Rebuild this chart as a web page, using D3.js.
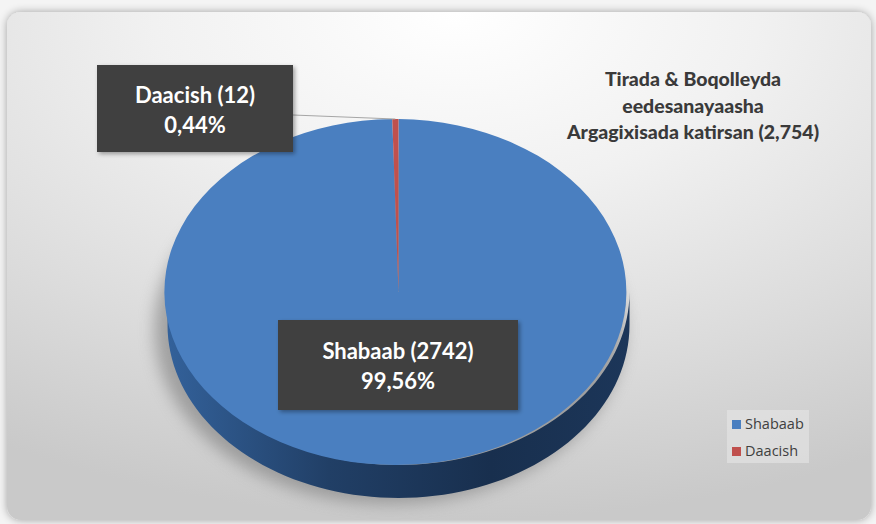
<!DOCTYPE html>
<html><head><meta charset="utf-8">
<script src="https://cdn.jsdelivr.net/npm/d3@7"></script>
<style>
html,body{margin:0;padding:0;background:#f4f4f4;}
svg{display:block;}
</style></head>
<body>
<svg id="chart" width="876" height="524"></svg>
<script>
const categories = ["Shabaab", "Daacish"];
const values = [2742, 12];
const colors = ["#4a7fc0", "#c0504d"];
const titleLines = ["Tirada & Boqolleyda", "eedesanayaasha", "Argagixisada katirsan (2,754)"];

(function(){
const svg = d3.select("#chart");
const defs = svg.append("defs");

// panel background
const bg = defs.append("radialGradient").attr("id","bgGrad")
  .attr("cx","0.52").attr("cy","0.0").attr("r","1.0").attr("fx","0.52").attr("fy","0.0");
bg.append("stop").attr("offset","0%").attr("stop-color","#ffffff");
bg.append("stop").attr("offset","35%").attr("stop-color","#f1f1f1");
bg.append("stop").attr("offset","70%").attr("stop-color","#dcdcdc");
bg.append("stop").attr("offset","100%").attr("stop-color","#c9c9c9");

const panelShadow = defs.append("filter").attr("id","panelShadow").attr("x","-5%").attr("y","-5%").attr("width","110%").attr("height","110%");
panelShadow.append("feGaussianBlur").attr("in","SourceAlpha").attr("stdDeviation",4).attr("result","b");
panelShadow.append("feComponentTransfer").attr("in","b").attr("result","o2")
  .append("feFuncA").attr("type","linear").attr("slope",0.35);
const pm = panelShadow.append("feMerge");
pm.append("feMergeNode").attr("in","o2");
pm.append("feMergeNode").attr("in","SourceGraphic");

svg.append("rect").attr("x",7).attr("y",12).attr("width",864).attr("height",508)
  .attr("rx",14).attr("fill","url(#bgGrad)").attr("filter","url(#panelShadow)");

// pie geometry
const cx = 398.5, cy = 292, rx = 231, ry = 173, depth = 33;

// soft shadow under pie
const blur = defs.append("filter").attr("id","pieShadow").attr("x","-30%").attr("y","-30%").attr("width","160%").attr("height","160%");
blur.append("feGaussianBlur").attr("stdDeviation",8);
svg.append("ellipse").attr("cx",cx-9).attr("cy",cy+depth+4).attr("rx",rx+4).attr("ry",ry+2)
  .attr("fill","#7a7a7a").attr("opacity",0.6).attr("filter","url(#pieShadow)");

const pie = d3.pie().sort(null).value(d => d)(values);

// side gradient
const sg = defs.append("linearGradient").attr("id","sideGrad").attr("x1","0").attr("x2","1").attr("y1","0").attr("y2","0");
sg.append("stop").attr("offset","0%").attr("stop-color","#33619a");
sg.append("stop").attr("offset","35%").attr("stop-color","#213f66");
sg.append("stop").attr("offset","70%").attr("stop-color","#182f4e");
sg.append("stop").attr("offset","100%").attr("stop-color","#1c3659");
const sgR = defs.append("linearGradient").attr("id","sideGradR").attr("x1","0").attr("x2","1");
sgR.append("stop").attr("offset","0%").attr("stop-color","#8a2e2c");
sgR.append("stop").attr("offset","100%").attr("stop-color","#6e2423");

const px = a => cx + rx * Math.sin(a);
const py = (a, dy) => cy - ry * Math.cos(a) + dy;

pie.forEach((p, i) => {
  const a0 = Math.max(p.startAngle, Math.PI/2), a1 = Math.min(p.endAngle, 3*Math.PI/2);
  if (a1 <= a0) return;
  const n = 80, pts = [];
  for (let k = 0; k <= n; k++) { const a = a0 + (a1-a0)*k/n; pts.push([px(a), py(a,0)]); }
  for (let k = n; k >= 0; k--) { const a = a0 + (a1-a0)*k/n; pts.push([px(a), py(a,depth)]); }
  svg.append("path").attr("d", d3.line()(pts) + "Z")
    .attr("fill", i === 0 ? "url(#sideGrad)" : "url(#sideGradR)");
});

// top face
const arc = d3.arc().innerRadius(0).outerRadius(1);
const face = svg.append("g").attr("transform", `translate(${cx},${cy}) scale(${rx},${ry})`);
face.selectAll("path").data(pie).join("path")
  .attr("d", arc).attr("fill", (d,i) => colors[i]);

// labels
const fmt = v => (v / d3.sum(values) * 100).toFixed(2).replace(".", ",") + "%";
const labelShadow = defs.append("filter").attr("id","lblShadow").attr("x","-10%").attr("y","-10%").attr("width","130%").attr("height","130%");
labelShadow.append("feDropShadow").attr("dx",2).attr("dy",2).attr("stdDeviation",2).attr("flood-color","#000").attr("flood-opacity",0.35);

const labels = [
  {i:0, x:278, y:320, w:240, h:90},
  {i:1, x:97, y:65, w:196, h:87}
];

// leader line for Daacish
const mid = (pie[1].startAngle + pie[1].endAngle) / 2;
svg.append("line").attr("x1",293).attr("y1",115).attr("x2",px(mid)).attr("y2",py(mid,0))
  .attr("stroke","#a6a6a6").attr("stroke-width",1);

labels.forEach(L => {
  const g = svg.append("g");
  g.append("rect").attr("x",L.x).attr("y",L.y).attr("width",L.w).attr("height",L.h)
    .attr("fill","#404040").attr("filter","url(#lblShadow)");
  g.append("text").attr("x",L.x+L.w/2).attr("y",L.y+L.h/2-6)
    .attr("text-anchor","middle").attr("fill","#ffffff")
    .attr("font-family","Lato, 'Open Sans', sans-serif").attr("font-weight","bold").attr("font-size",22)
    .text(`${categories[L.i]} (${values[L.i]})`);
  g.append("text").attr("x",L.x+L.w/2).attr("y",L.y+L.h/2+24)
    .attr("text-anchor","middle").attr("fill","#ffffff")
    .attr("font-family","Lato, 'Open Sans', sans-serif").attr("font-weight","bold").attr("font-size",22)
    .text(fmt(values[L.i]));
});

// title
const tt = svg.append("text").attr("text-anchor","middle").attr("fill","#3a3a3a")
  .attr("font-family","Lato, 'Open Sans', sans-serif").attr("font-weight","900").attr("font-size",19.5);
titleLines.forEach((t, k) => {
  tt.append("tspan").attr("x",693).attr("y",86 + k*26.5).text(t);
});

// legend
const lg = svg.append("g").attr("transform","translate(727,410)");
lg.append("rect").attr("width",82).attr("height",53).attr("fill","#e6e6e6").attr("opacity",0.6);
categories.forEach((c, i) => {
  lg.append("rect").attr("x",5).attr("y",10 + i*27).attr("width",9).attr("height",9).attr("fill",colors[i]);
  lg.append("text").attr("x",18).attr("y",18.5 + i*27).attr("fill","#404040")
    .attr("font-family","'Open Sans', sans-serif").attr("font-size",14.5).text(c);
});
})();
</script>
</body></html>
